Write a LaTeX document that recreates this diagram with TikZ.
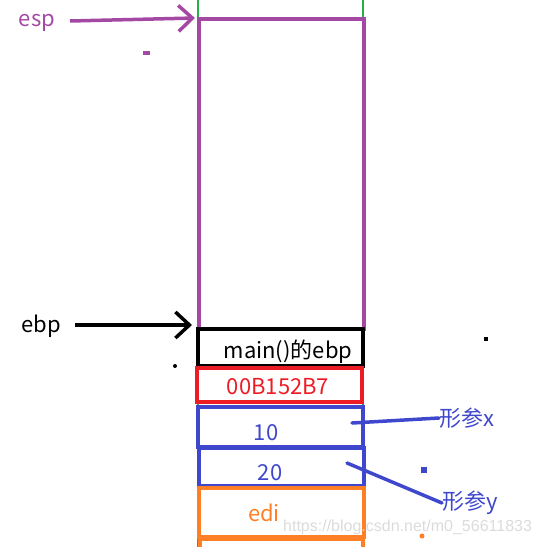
\documentclass[tikz,border=0pt]{standalone}
\usepackage{fontspec}
\setmainfont{Noto Sans CJK SC}
\newfontfamily\wmfont{Liberation Sans}
\usetikzlibrary{arrows.meta}
\definecolor{ppurple}{RGB}{163,73,164}
\definecolor{pgreen}{RGB}{34,177,76}
\definecolor{pred}{RGB}{237,28,36}
\definecolor{pblue}{RGB}{63,72,204}
\definecolor{porange}{RGB}{255,127,39}
\begin{document}
\begin{tikzpicture}[x=1pt,y=-1pt,
  cell/.style={draw, line width=4pt, inner sep=0pt, minimum width=165pt},
  lbl/.style={font=\fontsize{22}{24}\selectfont, inner sep=0pt, anchor=base},
  ptr/.style={line width=3.5pt, -{Straight Barb[length=14pt,width=26pt,line width=3.5pt]}},
  dotm/.style={fill, inner sep=0pt, minimum size=4pt}
]
\useasboundingbox (0,0) rectangle (541,547);
% green guide lines
\draw[pgreen, line width=2.5pt] (198,0) -- (198,547);
\draw[pgreen, line width=2.5pt] (363,0) -- (363,547);
% stack cells
\node[cell, draw=ppurple, minimum height=310pt] (top) at (281.5,174) {};
\node[cell, draw=black, minimum height=37pt] (mebp) at (280.5,347.5) {};
\node[lbl] (mebpt) at (288,358) {main()的ebp};
\node[cell, draw=pred, minimum height=34pt] (ret) at (279.5,385) {};
\node[lbl, text=pred] (rett) at (278,394) {00B152B7};
\node[cell, draw=pblue, minimum height=40pt] (x) at (280.5,427) {};
\node[lbl, text=pblue] (xt) at (266,440) {10};
\node[cell, draw=pblue, minimum height=38pt] (y) at (281,467) {};
\node[lbl, text=pblue] (yt) at (270,480) {20};
\node[cell, draw=porange, minimum height=49pt] (edi) at (281.5,512.5) {};
\node[lbl, text=porange] (edit) at (264,521) {edi};
% partial orange cell below
\draw[porange, line width=4pt] (200,547) -- (200,539) -- (363,539) -- (363,547);
% pointers
\node[lbl, text=ppurple] (esp) at (37,26) {esp};
\coordinate (espto) at (195,18);
\draw[ppurple, ptr] (70,21) -- (espto);
\node[lbl] (ebp) at (41,332) {ebp};
\coordinate (ebpto) at (192,325);
\draw[black, ptr] (75,325) -- (ebpto);
% parameter labels
\node[lbl, text=pblue, anchor=west] (px) at (439,418) {形参x};
\coordinate (xin) at (352,423);
\draw[pblue, line width=3.5pt, line cap=round] (xin) -- (px.west);
\node[lbl, text=pblue, anchor=west] (py) at (442,503) {形参y};
\coordinate (yin) at (347,463);
\draw[pblue, line width=3.5pt, line cap=round] (yin) -- (py.west);
% stray dots
\node[dotm, ppurple, minimum width=7pt, minimum height=4pt] (d1) at (146,53) {};
\node[dotm, black] (d2) at (486,339) {};
\node[dotm, black, circle] (d3) at (175,366) {};
\node[dotm, pblue, minimum size=6pt] (d4) at (424,470) {};
\node[dotm, porange, circle, minimum size=5pt] (d5) at (422,536) {};
% watermark
\node[font=\wmfont\fontsize{16}{18}\selectfont, text=black!14, anchor=west, inner sep=0pt] (wm) at (283,527) {https://blog.csdn.net/m0\_56611833};
\end{tikzpicture}
\end{document}
